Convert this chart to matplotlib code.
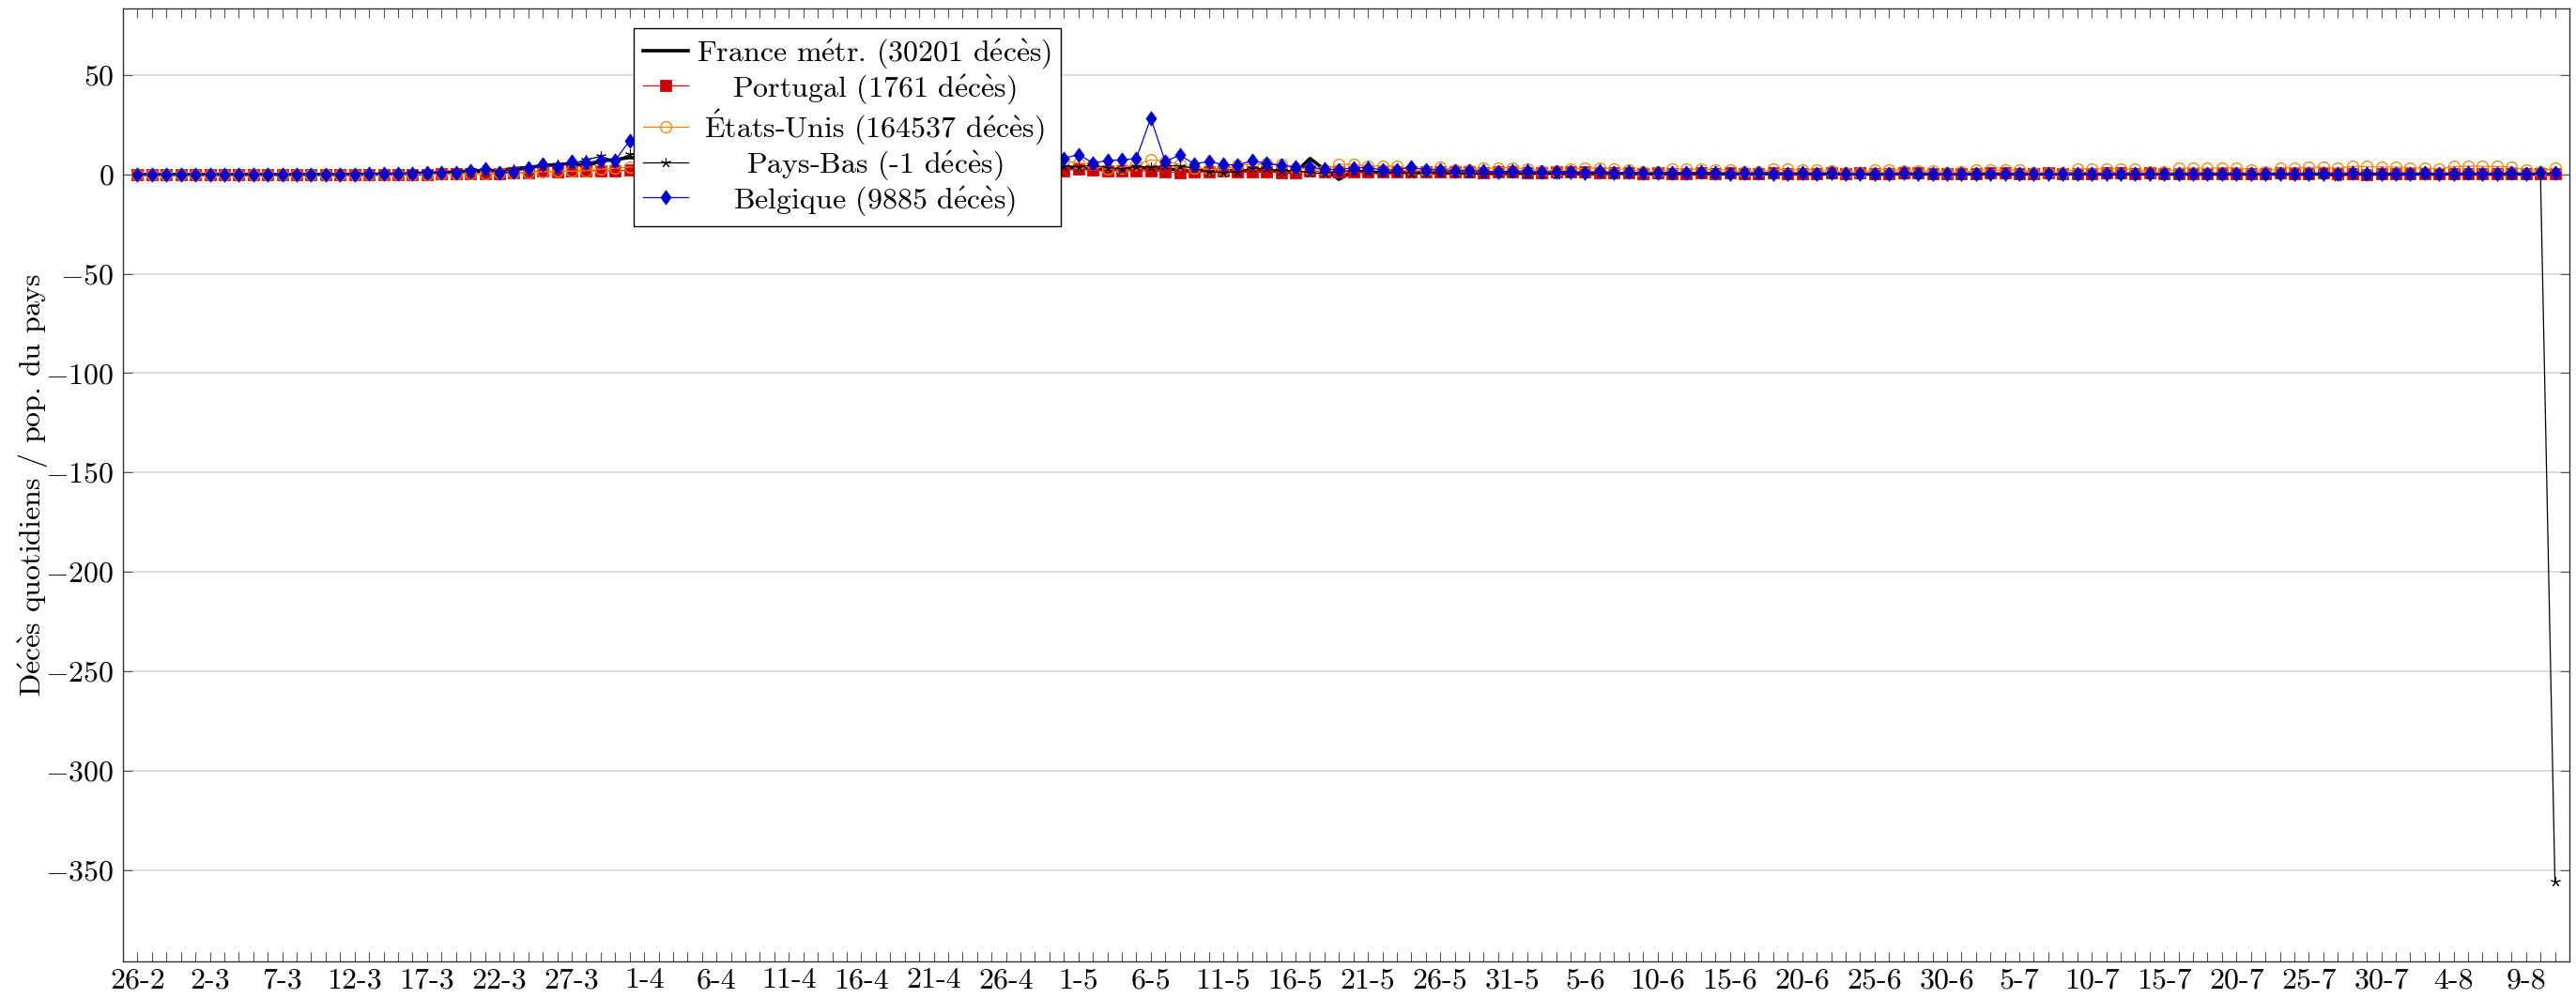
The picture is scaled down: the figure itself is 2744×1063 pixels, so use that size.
import numpy as np
import pandas as pd
import matplotlib
matplotlib.use('Agg')
import matplotlib.pyplot as plt

# Computer Modern look; accents through mathtext so they stay in CM
plt.rcParams['font.family'] = ['cmr10', 'DejaVu Serif']
plt.rcParams['mathtext.fontset'] = 'cm'
plt.rcParams['axes.formatter.use_mathtext'] = True
plt.rcParams['axes.unicode_minus'] = False
plt.rcParams['font.size'] = 23

E_AIGU = r'$\mathrm{\acute{e}}$'
E_GRAVE = r'$\mathrm{\grave{e}}$'
DECES = 'd' + E_AIGU + 'c' + E_GRAVE + 's'

#------------------------------- DATA ------------------------------------------
# one point per day, 26-2 to 11-8 (2020), deaths per day / million inhabitants
dates = pd.date_range('2020-02-26', '2020-08-11')
tick_labels = [f'{d.day}-{d.month}' if i % 5 == 0 else '' for i, d in enumerate(dates)]

labels = ['France m' + E_AIGU + 'tr. (30201 ' + DECES + ')',
          'Portugal (1761 ' + DECES + ')',
          r'$\mathrm{\acute{E}}$' + 'tats-Unis (164537 ' + DECES + ')',
          'Pays-Bas (-1 ' + DECES + ')',
          'Belgique (9885 ' + DECES + ')']
ylabel = 'D' + E_AIGU + 'c' + E_GRAVE + 's quotidiens / pop. du pays'

france = [0, 0, 0, 0, 0, 0, 0, 0, 0, 0,
          0, 0, 0, 0, 0, 0, 0, 0.2, 0.1, 0.3,
          0.4, 1.0, 1.2, 1.6, 1.7, 2.0, 3.0, 3.4, 4.5, 4.8,
          5.6, 4.1, 6.8, 7.4, 8.5, 7.7, 7.1, 7.0, 6.7, 8.2,
          8.8, 9.2, 8.5, 7.6, 8.3, 6.7, 5.9, 8.4, 9.2, 7.5,
          6.9, 6.6, 5.5, 5.1, 5.8, 5.3, 5.0, 4.6, 4.1, 3.8,
          4.5, 3.6, 3.2, 4.6, 3.8, 3.2, 2.6, 2.2, 2.8, 3.4,
          3.0, 2.7, 2.3, 1.2, 2.4, 1.9, 1.6, 1.8, 1.9, 1.4,
          1.0, 8.0, 2.5, -2.5, 1.7, 1.3, 0.9, 1.1, 1.0, 0.8,
          0.9, 0.5, 0.8, 0.6, 0.4, 0.5, 0.6, 0.7, 0.5, 0.4,
          0.3, 0.4, 0.5, 0.4, 0.3, 0.2, 0.3, 0.4, 0.3, 0.2,
          0.3, 0.2, 0.3, 0.4, 0.2, 0.3, 0.2, 0.2, 0.3, 0.2,
          0.1, 0.2, 0.3, 0.2, 0.2, 0.1, 0.2, 0.2, 0.3, 0.1,
          0.2, 0.2, 0.1, 0.2, 0.3, 0.2, 0.1, 0.2, 0.2, 0.1,
          0.2, 0.1, 0.2, 0.1, 0.2, 0.2, 0.1, 0.2, 0.1, 0.1,
          0.2, 0.1, 0.2, 0.1, 0.2, 0.1, 0.1, 0.2, 0.1, 0.1,
          0.2, 0.1, 0.2, 0.1, 0.1, 0.2, 0.1, 0.1]

portugal = [0, 0, 0, 0, 0, 0, 0, 0, 0, 0,
            0, 0, 0, 0, 0, 0, 0, 0, 0, 0.1,
            0.1, 0.2, 0.3, 0.3, 0.5, 0.4, 0.8, 1.0, 1.6, 1.2,
            1.9, 1.6, 2.0, 1.6, 2.2, 2.9, 2.4, 3.6, 2.5, 2.8,
            2.9, 3.0, 2.8, 3.3, 3.4, 2.6, 3.5, 3.2, 3.0, 3.2,
            2.8, 2.3, 2.4, 3.2, 3.0, 2.1, 2.0, 2.3, 1.6, 2.3,
            2.2, 2.3, 1.9, 2.4, 2.0, 2.5, 2.4, 1.8, 2.0, 1.6,
            1.8, 1.2, 0.9, 1.1, 1.5, 1.8, 1.3, 1.4, 1.1, 1.0,
            0.9, 1.6, 1.3, 1.4, 1.2, 1.5, 1.4, 1.2, 1.3, 1.3,
            1.2, 1.3, 1.4, 1.0, 1.3, 1.4, 0.8, 1.0, 1.3, 1.4,
            1.2, 0.9, 0.6, 0.6, 0.5, 0.7, 0.5, 0.5, 0.7, 0.2,
            0.6, 0.3, 0.5, 0.6, 0.5, 0.3, 0.5, 0.7, 0.4, 0.6,
            0.4, 0.5, 0.8, 0.6, 0.3, 0.4, 0.5, 0.5, 0.6, 0.6,
            0.5, 0.4, 0.7, 0.4, 0.5, 0.4, 0.7, 0.6, 0.4, 0.7,
            0.5, 0.4, 0.3, 0.2, 0.5, 0.4, 0.4, 0.2, 0.6, 0.3,
            0.4, 0.6, 0.5, 0.3, 0.1, 0.3, 0.3, 0.2, 0.3, 0.2,
            0.4, 0.3, 0.2, 0.3, 0.2, 0.2, 0.3, 0.2]

usa = [0, 0, 0, 0, 0, 0, 0, 0, 0, 0,
       0, 0, 0, 0, 0, 0, 0.02, 0.03, 0.05, 0.06,
       0.1, 0.2, 0.3, 0.3, 0.4, 0.7, 0.8, 0.9, 1.3, 1.6,
       1.6, 1.9, 2.7, 3.1, 3.8, 3.5, 3.8, 4.4, 4.3, 4.0,
       5.3, 6.0, 5.9, 6.5, 6.3, 5.6, 4.7, 4.8, 7.0, 6.7,
       6.9, 7.3, 6.1, 5.5, 5.1, 6.9, 6.6, 6.1, 6.0, 4.8,
       4.1, 6.4, 7.5, 6.4, 6.8, 5.7, 5.0, 2.6, 3.4, 5.0,
       7.3, 6.5, 5.0, 3.4, 2.6, 2.3, 4.6, 5.0, 5.4, 5.0,
       3.4, 2.6, 2.3, 5.0, 5.0, 4.2, 4.2, 4.2, 2.6, 1.8,
       3.5, 2.4, 2.2, 3.0, 3.3, 3.4, 2.7, 2.0, 1.7, 2.7,
       3.0, 3.3, 2.7, 2.3, 1.5, 1.1, 2.5, 2.6, 2.6, 2.3,
       2.2, 1.4, 1.1, 2.6, 2.5, 2.3, 2.1, 1.9, 1.0, 0.9,
       2.4, 2.4, 2.0, 1.9, 1.6, 1.0, 1.3, 2.1, 2.3, 2.2,
       2.1, 1.0, 0.8, 1.0, 2.8, 2.7, 2.8, 2.5, 2.6, 1.3,
       1.1, 3.1, 3.2, 3.0, 3.4, 3.3, 2.4, 1.5, 3.2, 3.4,
       3.5, 3.6, 3.1, 4.0, 3.9, 3.7, 3.7, 3.4, 3.2, 2.8,
       3.9, 4.2, 4.1, 4.0, 3.6, 2.4, 1.5, 3.2]

pays_bas = [0, 0, 0, 0, 0, 0, 0, 0, 0, 0.06,
            0, 0.2, 0.1, 0.2, 0.1, 0.3, 0.5, 0.6, 0.2, 1.1,
            1.2, 0.9, 1.7, 2.1, 2.3, 1.3, 2.5, 3.2, 4.6, 5.1,
            5.4, 7.3, 9.1, 6.7, 10.1, 9.8, 9.4, 8.0, 9.6, 7.6,
            6.9, 13.4, 8.6, 9.4, 6.3, 7.2, 5.4, 5.7, 7.1, 10.3,
            8.3, 8.0, 7.2, 6.6, 4.1, 5.2, 6.9, 6.5, 6.9, 6.1,
            3.6, 2.6, 2.8, 5.6, 4.3, 3.8, 4.6, 3.4, 2.9, 3.9,
            3.6, 4.4, 4.2, 3.1, 1.1, 1.0, 1.2, 3.1, 3.0, 1.8,
            2.1, 0.6, 0.6, 1.7, 1.8, 1.7, 1.2, 0.9, 0.5, 0.9,
            1.0, 0.7, 0.4, 0.3, 0.6, 0.8, 0.5, 0.3, 0.1, 0.8,
            0.5, 0.7, 0.5, 0.6, 0.2, 0.1, 0.3, 0.3, 0.2, 0.4,
            0.3, 0.1, 0.0, 0.3, 0.2, 0.3, 0.1, 0.2, 0.0, 0.0,
            0.1, 0.1, 0.1, 0.1, 0.1, 0.0, 0.0, 0.1, 0.1, 0.0,
            0.1, 0.0, 0.0, 0.0, 0.1, 0.1, 0.0, 0.0, 0.0, 0.0,
            0.1, 0.0, 0.1, 0.0, 0.1, 0.0, 0.0, 0.0, 0.1, 0.1,
            0.0, 0.0, -1.0, 0.1, 0.1, 0.0, 0.1, 0.1, 0.2, 0.1,
            0.1, 0.0, 0.1, 0.2, 0.1, 0.1, 0.2, -356.0]

belgique = [0, 0, 0, 0, 0, 0, 0, 0, 0, 0,
            0, 0, 0, 0, 0.1, 0.1, 0.2, 0.3, 0.4, 0.5,
            0.9, 0.8, 1.0, 1.6, 2.9, 0.8, 1.2, 3.1, 5.1, 3.8,
            6.4, 5.9, 7.1, 7.1, 16.9, 10.5, 15.9, 11.5, 28.2, 14.3,
            16.3, 34.1, 17.8, 24.6, 43.1, 28.4, 22.1, 21.3, 22.9, 24.6,
            36.2, 27.2, 25.2, 20.3, 19.5, 23.4, 22.6, 19.1, 16.7, 15.2,
            12.0, 9.6, 15.8, 17.0, 8.1, 10.0, 5.7, 7.0, 7.3, 8.0,
            28.3, 6.5, 9.7, 5.3, 6.5, 5.0, 4.6, 7.0, 5.4, 4.6,
            3.7, 3.7, 2.6, 2.3, 3.4, 3.4, 2.3, 2.3, 3.7, 2.3,
            2.4, 1.9, 2.0, 1.6, 1.3, 1.8, 1.7, 1.1, 1.5, 1.4,
            1.0, 1.6, 0.9, 1.2, 0.7, 0.8, 1.0, 0.7, 1.1, 0.8,
            0.5, 0.6, 0.9, 0.5, 0.4, 0.6, 0.5, 0.7, 0.3, 0.4,
            0.5, 0.3, 0.6, 0.4, 0.3, 0.2, 0.3, 0.5, 0.3, 0.4,
            0.2, 0.3, 0.4, 0.2, 0.3, 0.2, 0.3, 0.2, 0.2, 0.3,
            0.3, 0.2, 0.4, 0.2, 0.3, 0.3, 0.2, 0.4, 0.3, 0.2,
            0.4, 0.5, 0.3, 0.6, 0.4, 0.3, 0.5, 0.4, 0.6, 0.5,
            0.4, 0.6, 0.5, 0.4, 0.7, 0.5, 0.6, 0.6]

#------------------------------- PLOT ------------------------------------------
x = np.arange(len(dates))
diamond = [(0, 1), (0.72, 0), (0, -1), (-0.72, 0), (0, 1)]

fig = plt.figure(figsize=(27.44, 10.63), dpi=100)
ax = fig.add_axes([131/2744, 1 - 1024/1063, 2606/2744, 1015/1063])

ax.plot(x, france, color='black', lw=2.6, label=labels[0])
ax.plot(x, portugal, color='red', lw=0.9, marker='s', ms=9, mfc='#cc0000',
        mec='red', mew=0.6, label=labels[1])
ax.plot(x, usa, color='#ff8000', lw=0.9, marker='o', ms=8.5, mfc='none',
        mec='#ff8000', mew=0.9, label=labels[2])
ax.plot(x, pays_bas, color='black', lw=0.9, marker=(5, 2, 0), ms=7.5, mew=0.7,
        label=labels[3])
ax.plot(x, belgique, color='blue', lw=0.9, marker=diamond, ms=11, mfc='#0000cc',
        mec='blue', mew=0.6, label=labels[4])

ax.set_xlim(-1, 168)
ax.set_ylim(-396, 83.5)
ax.set_xticks(x)
ax.set_xticklabels(tick_labels)
ax.set_yticks(range(-350, 51, 50))
ax.tick_params(axis='both', direction='in', top=True, right=True,
               length=7.5, width=0.8, color='#555555')
ax.tick_params(axis='x', pad=5)
ax.tick_params(axis='y', pad=7)
ax.yaxis.grid(True, color='#d3d3d3', lw=1.1)
ax.set_axisbelow(True)
for s in ax.spines.values():
    s.set_linewidth(1.0)
    s.set_color('#333333')

ax.set_ylabel(ylabel)
ax.yaxis.set_label_coords(-0.030, 0.5)

leg = ax.legend(loc='upper left', bbox_to_anchor=(0.2088, 0.9793), borderaxespad=0,
                fancybox=False, edgecolor='black', framealpha=1, handlelength=1.5,
                handletextpad=0.3, labelspacing=0.06, borderpad=0.3)
leg.get_frame().set_linewidth(1.0)

# pgfplots centres the legend texts in their column
fig.canvas.draw()
r = fig.canvas.get_renderer()
texts = leg.get_texts()
widths = [t.get_window_extent(r).width for t in texts]
for t, w in zip(texts, widths):
    t.set_x((max(widths) - w) / 2)

fig.savefig('out.png', dpi=100)
